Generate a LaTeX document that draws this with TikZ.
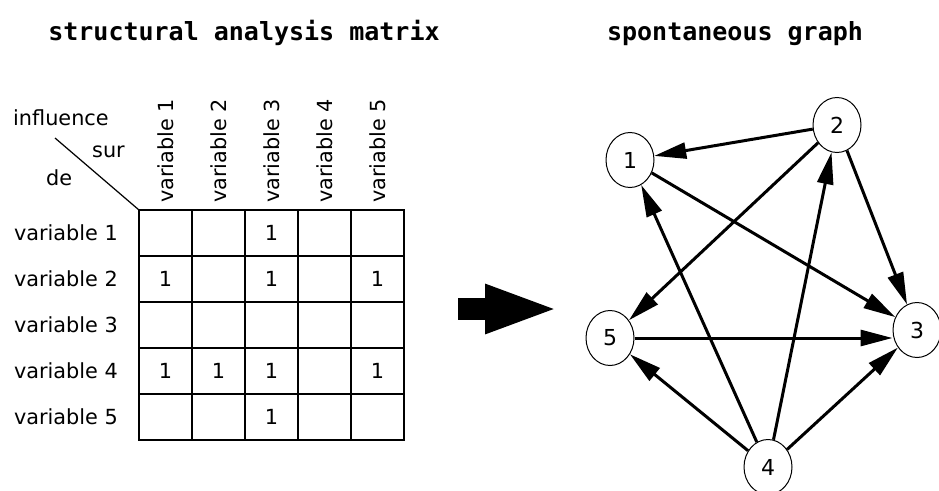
\documentclass[tikz,border=0pt]{standalone}
\usepackage{fontspec}
\setmainfont{DejaVu Sans}
\newfontfamily\titlefont{DejaVu Sans Mono}
\usetikzlibrary{shapes.geometric, arrows.meta, positioning}
\tikzstyle{title} = [font=\titlefont\bfseries\fontsize{25}{30}\selectfont, inner sep=0pt, anchor=base]
\tikzstyle{lbl} = [font=\fontsize{20.8}{24}\selectfont, inner sep=0pt]
\tikzstyle{cell} = [rectangle, draw, line width=1.5pt, minimum width=53pt, minimum height=46pt, inner sep=0pt, outer sep=0pt, font=\fontsize{20.8}{24}\selectfont]
\tikzstyle{varnode} = [ellipse, draw, line width=1pt, minimum width=48pt, minimum height=55pt, inner sep=0pt, font=\fontsize{22}{26}\selectfont]
\tikzstyle{infl} = [line width=3pt, -{Triangle[length=32pt, width=16pt]}, black]
\tikzstyle{bigarrow} = [line width=22pt, -{Triangle[length=75pt, width=44pt]}, black]

\begin{document}
\begin{tikzpicture}[x=1pt, y=-1pt]

	\useasboundingbox (0,0) rectangle (939,490);

	% Titles
	\node (mattitle) [title] at (244,40) {structural analysis matrix};
	\node (graphtitle) [title] at (735,40) {spontaneous graph};

	% Matrix - row 1
	\node (c11) [cell, anchor=north west] at (139,210) {};
	\node (c12) [cell, right=0pt of c11] {};
	\node (c13) [cell, right=0pt of c12] {1};
	\node (c14) [cell, right=0pt of c13] {};
	\node (c15) [cell, right=0pt of c14] {};

	% Matrix - row 2
	\node (c21) [cell, below=0pt of c11] {1};
	\node (c22) [cell, right=0pt of c21] {};
	\node (c23) [cell, right=0pt of c22] {1};
	\node (c24) [cell, right=0pt of c23] {};
	\node (c25) [cell, right=0pt of c24] {1};

	% Matrix - row 3
	\node (c31) [cell, below=0pt of c21] {};
	\node (c32) [cell, right=0pt of c31] {};
	\node (c33) [cell, right=0pt of c32] {};
	\node (c34) [cell, right=0pt of c33] {};
	\node (c35) [cell, right=0pt of c34] {};

	% Matrix - row 4
	\node (c41) [cell, below=0pt of c31] {1};
	\node (c42) [cell, right=0pt of c41] {1};
	\node (c43) [cell, right=0pt of c42] {1};
	\node (c44) [cell, right=0pt of c43] {};
	\node (c45) [cell, right=0pt of c44] {1};

	% Matrix - row 5
	\node (c51) [cell, below=0pt of c41] {};
	\node (c52) [cell, right=0pt of c51] {};
	\node (c53) [cell, right=0pt of c52] {1};
	\node (c54) [cell, right=0pt of c53] {};
	\node (c55) [cell, right=0pt of c54] {};

	% Row labels
	\node (r1) [lbl, left=21pt of c11] {variable 1};
	\node (r2) [lbl, left=21pt of c21] {variable 2};
	\node (r3) [lbl, left=21pt of c31] {variable 3};
	\node (r4) [lbl, left=21pt of c41] {variable 4};
	\node (r5) [lbl, left=21pt of c51] {variable 5};

	% Column labels
	\node (h1) [lbl, rotate=90, anchor=west] at ([yshift=7pt]c11.north) {variable 1};
	\node (h2) [lbl, rotate=90, anchor=west] at ([yshift=7pt]c12.north) {variable 2};
	\node (h3) [lbl, rotate=90, anchor=west] at ([yshift=7pt]c13.north) {variable 3};
	\node (h4) [lbl, rotate=90, anchor=west] at ([yshift=7pt]c14.north) {variable 4};
	\node (h5) [lbl, rotate=90, anchor=west] at ([yshift=7pt]c15.north) {variable 5};

	% Corner
	\node (influ) [lbl, anchor=base west] at (13,125) {influence};
	\node (sur) [lbl, anchor=base west] at (92,157) {sur};
	\node (de) [lbl, anchor=base west] at (46,185) {de};
	\coordinate (diag) at (55,138);
	\draw[line width=1.2pt] (diag) -- (c11.north west);

	% Big arrow
	\coordinate (arrtail) at (458,309);
	\coordinate (arrtip) at (560,309);
	\draw[bigarrow] (arrtail) -- (arrtip);

	% Graph nodes
	\node (v1) [varnode] at (630,160) {1};
	\node (v2) [varnode] at (837,125) {2};
	\node (v3) [varnode] at (917,330) {3};
	\node (v4) [varnode] at (768,467) {4};
	\node (v5) [varnode] at (610,338) {5};

	% Influences
	\draw[infl] (v1) -- (v3);
	\draw[infl] (v2) -- (v1);
	\draw[infl] (v2) -- (v3);
	\draw[infl] (v2) -- (v5);
	\draw[infl] (v4) -- (v1);
	\draw[infl] (v4) -- (v2);
	\draw[infl] (v4) -- (v3);
	\draw[infl] (v4) -- (v5);
	\draw[infl] (v5.east) -- (v5.east -| v3.west);

\end{tikzpicture}
\end{document}
